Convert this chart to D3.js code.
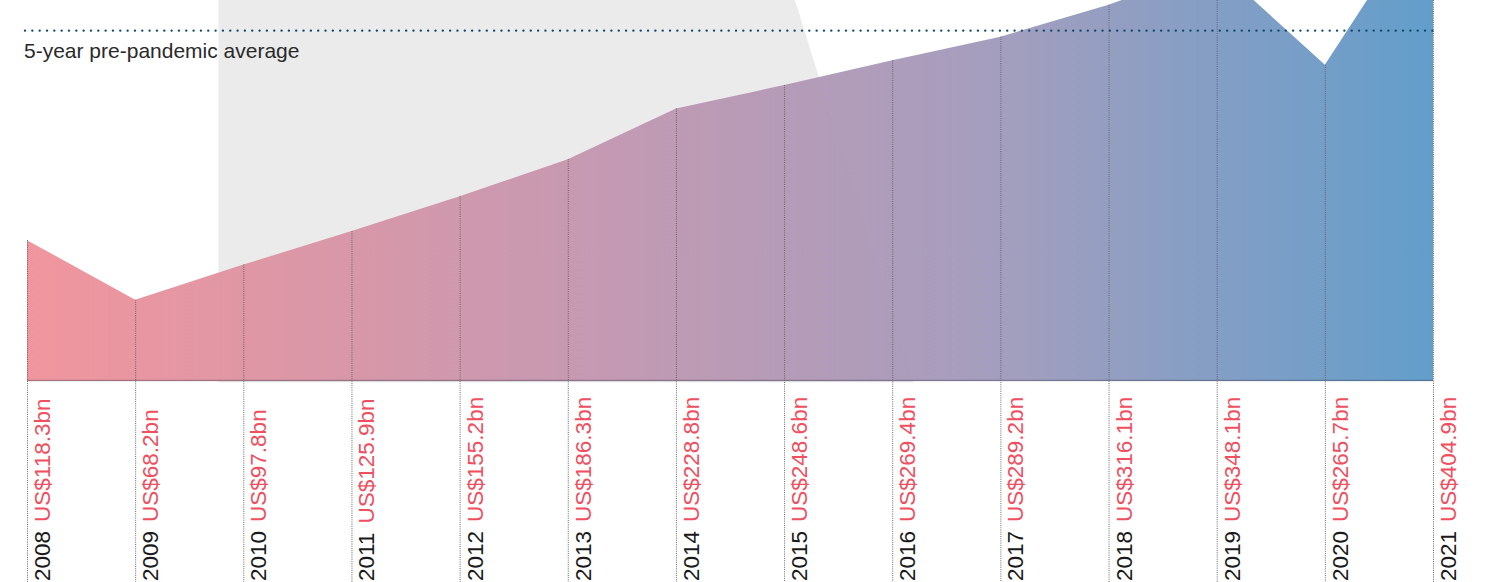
<!DOCTYPE html>
<html>
<head>
<meta charset="utf-8">
<script src="https://cdn.jsdelivr.net/npm/d3@7"></script>
<style>
  html, body { margin: 0; padding: 0; background: #fff; }
  svg { display: block; font-family: "Liberation Sans", Arial, Helvetica, sans-serif; }
</style>
</head>
<body>
<svg id="chart"></svg>
<script>
// data: yearly values, US$ bn
const years = [2008, 2009, 2010, 2011, 2012, 2013, 2014, 2015, 2016, 2017, 2018, 2019, 2020, 2021];
const values = [118.3, 68.2, 97.8, 125.9, 155.2, 186.3, 228.8, 248.6, 269.4, 289.2, 316.1, 348.1, 265.7, 404.9];
const valueLabels = ['US$118.3bn', 'US$68.2bn', 'US$97.8bn', 'US$125.9bn', 'US$155.2bn', 'US$186.3bn',
  'US$228.8bn', 'US$248.6bn', 'US$269.4bn', 'US$289.2bn', 'US$316.1bn', 'US$348.1bn', 'US$265.7bn', 'US$404.9bn'];
const avgYears = [2015, 2016, 2017, 2018, 2019];
const avgLabel = '5-year pre-pandemic average';

const W = 1491, H = 582;
const baseY = 381;

const svg = d3.select('#chart').attr('width', W).attr('height', H);

const x = d3.scaleLinear().domain([2008, 2021]).range([27, 1433]);
const y = d3.scaleLinear().domain([0, 320]).range([baseY, 0]);

const data = years.map((yr, i) => ({ year: yr, value: values[i], label: valueLabels[i] }));
const avg = d3.mean(data.filter(d => avgYears.includes(d.year)), d => d.value);

// grey backdrop shape (decorative)
const bgShape = [[2009.77, 320], [2015.1, 320], [2016.2, -1], [2009.77, -1]];
svg.append('polygon')
  .attr('points', bgShape.map(p => [x(p[0]), y(p[1])].join(',')).join(' '))
  .attr('fill', '#ebebeb');

// gradient, pink -> blue
const defs = svg.append('defs');
const grad = defs.append('linearGradient')
  .attr('id', 'areaGrad')
  .attr('gradientUnits', 'userSpaceOnUse')
  .attr('x1', x(2008)).attr('x2', x(2021)).attr('y1', 0).attr('y2', 0);
[['0%', '#f0929a'], ['40%', '#c497b0'], ['70%', '#a09bbc'], ['92%', '#709bc6'], ['100%', '#5d9bc9']]
  .forEach(s => grad.append('stop').attr('offset', s[0]).attr('stop-color', s[1]));

const area = d3.area()
  .x(d => x(d.year))
  .y0(baseY)
  .y1(d => y(d.value));

svg.append('path')
  .datum(data)
  .attr('d', area)
  .attr('fill', 'url(#areaGrad)')
  .attr('fill-opacity', 0.97);

// baseline
svg.append('line')
  .attr('x1', x(2008)).attr('x2', x(2021))
  .attr('y1', baseY - 0.5).attr('y2', baseY - 0.5)
  .attr('stroke', 'rgba(50,50,70,0.35)')
  .attr('stroke-width', 1.5);

// vertical dotted guides
svg.append('g').selectAll('line')
  .data(data)
  .join('line')
    .attr('x1', d => x(d.year) + 0.5).attr('x2', d => x(d.year) + 0.5)
    .attr('y1', d => Math.max(0, y(d.value)))
    .attr('y2', H)
    .attr('stroke', '#666')
    .attr('stroke-width', 1)
    .attr('stroke-dasharray', '1,1.2');

// average line
svg.append('line')
  .attr('x1', 25).attr('x2', x(2021))
  .attr('y1', y(avg)).attr('y2', y(avg))
  .attr('stroke', '#0f4a6c')
  .attr('stroke-width', 2.4)
  .attr('stroke-linecap', 'round')
  .attr('stroke-dasharray', '0,7.33');

svg.append('text')
  .attr('x', 24).attr('y', y(avg) + 27)
  .attr('font-size', 21)
  .attr('fill', '#2a2a2a')
  .text(avgLabel);

// rotated labels
const labels = svg.append('g').selectAll('text')
  .data(data)
  .join('text')
    .attr('transform', d => `translate(${x(d.year) + 23},${H - 1}) rotate(-90)`)
    .attr('font-size', 22.5);
labels.append('tspan').attr('fill', '#1a1a1a').text(d => d.year);
labels.append('tspan').attr('fill', '#ef4f5f').attr('dx', 9).text(d => d.label);
</script>
</body>
</html>
